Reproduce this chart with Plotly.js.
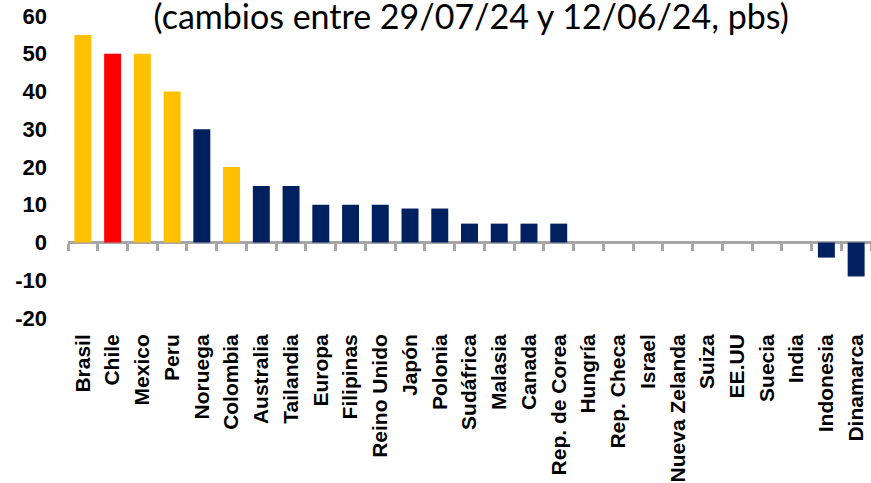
<!DOCTYPE html>
<html>
<head>
<meta charset="utf-8">
<script src="https://cdn.plot.ly/plotly-3.0.1.min.js"></script>
<style>html,body{margin:0;padding:0;background:#fff;}#chart{width:871px;height:483px;}</style>
</head>
<body>
<div id="chart"></div>
<script>
const categories = ["Brasil","Chile","Mexico","Peru","Noruega","Colombia","Australia","Tailandia","Europa","Filipinas","Reino Unido","Japón","Polonia","Sudáfrica","Malasia","Canada","Rep. de Corea","Hungría","Rep. Checa","Israel","Nueva Zelanda","Suiza","EE.UU","Suecia","India","Indonesia","Dinamarca"];
const values = [55,50,50,40,30,20,15,15,10,10,10,9,9,5,5,5,5,0,0,0,0,0,0,0,0,-4,-9];
const groups = ["latam","chile","latam","latam","other","latam","other","other","other","other","other","other","other","other","other","other","other","other","other","other","other","other","other","other","other","other","other"];
const groupColors = {latam:"#FFC000", chile:"#FF0000", other:"#002060"};
const titleText = "(cambios entre 29/07/24 y 12/06/24, pbs)";
const yTicks = [-20,-10,0,10,20,30,40,50,60];

const bars = {
  type: "bar",
  x: categories,
  y: values,
  marker: {color: groups.map(g => groupColors[g])},
  hoverinfo: "x+y",
  showlegend: false
};
const tickHolder = {
  type: "scatter",
  mode: "markers",
  x: categories,
  y: categories.map(() => 0),
  xaxis: "x2",
  marker: {opacity: 0},
  hoverinfo: "skip",
  showlegend: false
};

const layout = {
  width: 871,
  height: 483,
  margin: {l: 68, r: 0, t: 16, b: 165},
  paper_bgcolor: "#ffffff",
  plot_bgcolor: "#ffffff",
  bargap: 0.43,
  showlegend: false,
  title: {
    text: titleText,
    font: {family: "Lato, 'Open Sans', sans-serif", size: 34, color: "#000000"},
    x: 0.541, xanchor: "center",
    y: 0.965, yanchor: "middle"
  },
  xaxis: {
    type: "category",
    categoryorder: "array",
    categoryarray: categories,
    range: [-0.5, categories.length - 0.5],
    tickangle: -90,
    ticks: "",
    showline: false,
    showgrid: false,
    zeroline: false,
    ticklabelstandoff: 11,
    tickfont: {family: "Liberation Sans, Arial, sans-serif", size: 21, color: "#000000", weight: "bold"}
  },
  xaxis2: {
    type: "category",
    categoryorder: "array",
    categoryarray: categories,
    range: [-0.5, categories.length - 0.5],
    overlaying: "x",
    anchor: "free",
    position: 0.25,
    side: "bottom",
    tickson: "boundaries",
    ticks: "outside",
    ticklen: 7,
    tickwidth: 3,
    tickcolor: "#A6A6A6",
    showticklabels: false,
    showline: false,
    showgrid: false,
    zeroline: false
  },
  yaxis: {
    range: [-20, 60],
    tickvals: yTicks,
    ticktext: yTicks.map(String),
    ticks: "",
    showgrid: false,
    showline: false,
    zeroline: true,
    zerolinecolor: "#A6A6A6",
    zerolinewidth: 3,
    ticklabelstandoff: 20,
    tickfont: {family: "Liberation Sans, Arial, sans-serif", size: 22, color: "#000000", weight: "bold"}
  }
};

Plotly.newPlot("chart", [bars, tickHolder], layout, {displayModeBar: false, staticPlot: true});
</script>
</body>
</html>
